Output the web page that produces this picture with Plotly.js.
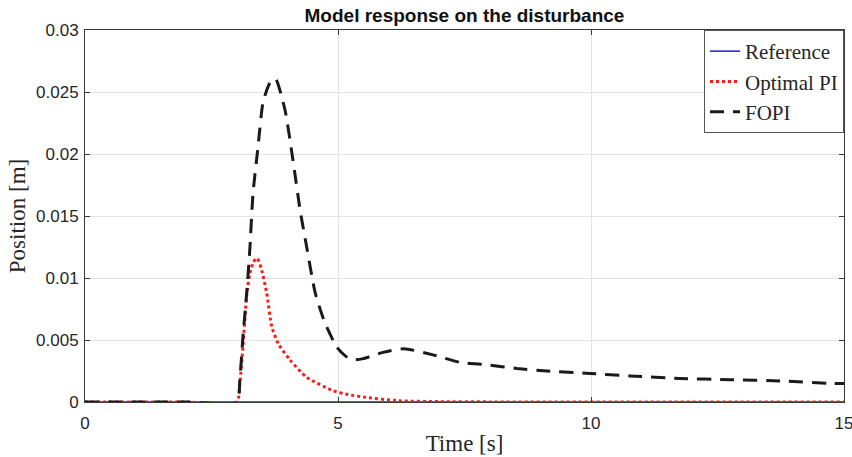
<!DOCTYPE html>
<html>
<head>
<meta charset="utf-8">
<script src="https://cdn.plot.ly/plotly-3.0.1.min.js"></script>
<style>html,body{margin:0;padding:0;background:#fff;}#chart{width:852px;height:457px;}</style>
</head>
<body>
<div id="chart"></div>
<script>
// Reference signal
const tRef = [0, 15];
const yRef = [0, 0];

// Optimal PI response
const tPI = [0, 2.0, 3.0, 3.06, 3.12, 3.2, 3.26, 3.33, 3.4, 3.48, 3.59, 3.69, 3.82, 4.05, 4.38, 4.91, 5.2, 5.5, 6.2, 7.0, 8.0, 15];
const yPI = [0, 0, 0, 0.0015, 0.0044, 0.0088, 0.0104, 0.0113, 0.0116, 0.0108, 0.0088, 0.0061, 0.0047, 0.0034, 0.0020, 0.0009, 0.0006, 0.0004, 0.0001, 0.00003, 0.00001, 0];

// FOPI response
const tFOPI = [0, 2.0, 3.0, 3.06, 3.12, 3.2, 3.26, 3.32, 3.42, 3.52, 3.65, 3.76, 3.95, 4.11, 4.25, 4.39, 4.55, 4.74, 4.98, 5.15, 5.3, 5.5, 5.89, 6.3, 6.88, 7.41, 7.94, 8.54, 9.13, 9.98, 10.77, 11.76, 12.75, 13.74, 14.78, 15];
const yFOPI = [0, 0, 0, 0.0018, 0.0052, 0.0090, 0.0125, 0.0168, 0.0206, 0.0242, 0.0257, 0.0261, 0.0236, 0.0195, 0.0155, 0.0123, 0.0088, 0.0064, 0.0044, 0.0037, 0.0034, 0.0035, 0.0040, 0.0043, 0.0038, 0.0032, 0.0030, 0.0027, 0.0025, 0.0023, 0.0021, 0.0019, 0.0018, 0.0017, 0.0015, 0.0015];

// Tick labels
const xTickVals = [0, 5, 10, 15];
const xTickText = ['0', '5', '10', '15'];
const yTickVals = [0, 0.005, 0.01, 0.015, 0.02, 0.025, 0.03];
const yTickText = ['0', '0.005', '0.01', '0.015', '0.02', '0.025', '0.03'];

const traces = [
  {x: tRef, y: yRef, name: 'Reference', mode: 'lines',
   line: {color: '#1f1fd0', width: 1.5}},
  {x: tPI, y: yPI, name: 'Optimal PI', mode: 'lines',
   line: {color: '#ff1a1a', width: 3, dash: '3px,3px', shape: 'spline', smoothing: 0.6}},
  {x: tFOPI, y: yFOPI, name: 'FOPI', mode: 'lines',
   line: {color: '#1a1a1a', width: 3, dash: '14px,9px', shape: 'spline', smoothing: 0.6}}
];

const axisCommon = {
  showline: true, mirror: 'ticks', linecolor: '#3a3a3a', linewidth: 1,
  ticks: 'inside', ticklen: 5, tickcolor: '#3a3a3a',
  showgrid: true, gridcolor: '#e3e3e3', gridwidth: 1,
  zeroline: false, automargin: false,
  ticklabeloverflow: 'allow',
  tickfont: {family: 'Liberation Sans, Arial, sans-serif', size: 17, color: '#262626'}
};

const serif = 'Liberation Serif, Times New Roman, serif';

const layout = {
  width: 852, height: 457,
  margin: {l: 85, r: 8, t: 30, b: 55},
  paper_bgcolor: '#fff', plot_bgcolor: '#fff',
  showlegend: true,
  title: {text: '<b>Model response on the disturbance</b>',
          font: {family: 'Liberation Sans, Arial, sans-serif', size: 19, color: '#111'},
          xref: 'paper', x: 0.5, xanchor: 'center', y: 0.966, yanchor: 'middle'},
  xaxis: Object.assign({}, axisCommon, {
    range: [0, 15], tickvals: xTickVals, ticktext: xTickText,
    ticklabelstandoff: 6,
    title: {text: 'Time [s]', standoff: 2,
            font: {family: serif, size: 23, color: '#262626'}}
  }),
  yaxis: Object.assign({}, axisCommon, {
    range: [0, 0.03], tickvals: yTickVals, ticktext: yTickText,
    ticklabelstandoff: 2,
    title: {text: 'Position [m]', standoff: 4,
            font: {family: serif, size: 23, color: '#262626'}}
  }),
  legend: {
    x: 1, xanchor: 'right', y: 1, yanchor: 'top',
    bgcolor: '#fff', bordercolor: '#555', borderwidth: 1,
    font: {family: serif, size: 21, color: '#262626'},
    itemwidth: 30, tracegroupgap: 0
  }
};

Plotly.newPlot('chart', traces, layout, {displayModeBar: false, staticPlot: true});
</script>
</body>
</html>
